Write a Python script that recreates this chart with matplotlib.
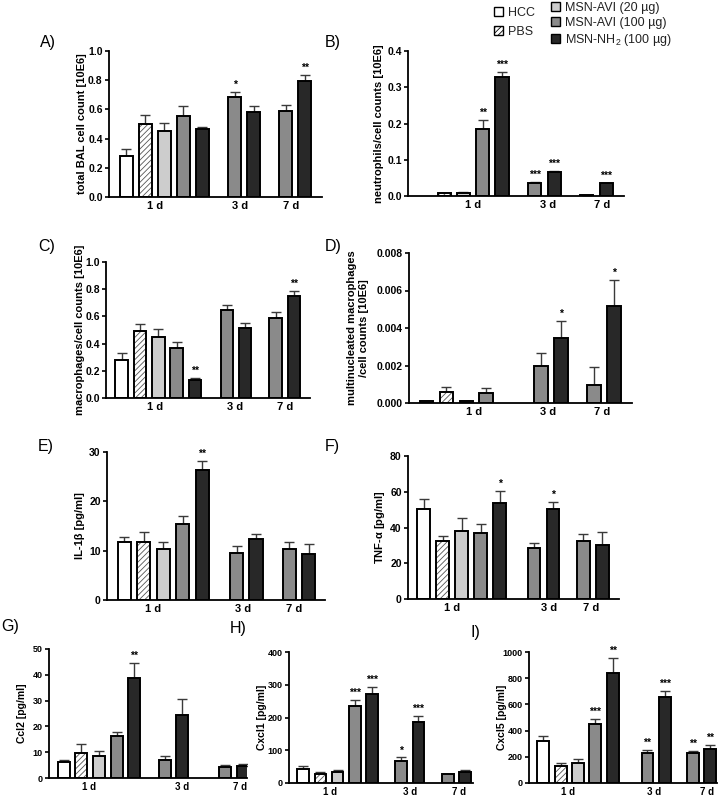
import matplotlib
matplotlib.use('Agg')
import matplotlib.pyplot as plt
from matplotlib.patches import Patch
from matplotlib.ticker import FormatStrFormatter
import numpy as np

plt.rcParams['font.family'] = ['Liberation Sans', 'DejaVu Sans']
plt.rcParams['hatch.linewidth'] = 0.6
plt.rcParams['mathtext.default'] = 'regular'

W, H = 725, 800
nan = np.nan

groups = ['1 d', '3 d', '7 d']
treatments = ['HCC', 'PBS', 'MSN-AVI (20 µg)', 'MSN-AVI (100 µg)', 'MSN-NH$_2$ (100 µg)']
# 1 d: all five groups, 3 d and 7 d: MSN-AVI (100) and MSN-NH2 only
bar_treat = [0, 1, 2, 3, 4, 3, 4, 3, 4]
face = ['white', 'white', '#cdcdcd', '#8a8a8a', '#282828']

a_mean = [0.28, 0.50, 0.45, 0.553, 0.463, 0.685, 0.582, 0.591, 0.795]
a_err = [0.05, 0.062, 0.057, 0.068, 0.018, 0.037, 0.041, 0.041, 0.039]
a_sig = ['', '', '', '', '', '*', '', '', '**']

b_mean = [nan, 0.0083, 0.0092, 0.185, 0.327, 0.0368, 0.065, 0.002, 0.035]
b_err = [nan, 0.001, 0.003, 0.024, 0.014, 0.001, 0.005, 0.0005, 0.002]
b_sig = ['', '', '', '**', '***', '***', '***', '', '***']

c_mean = [0.28, 0.49, 0.45, 0.365, 0.135, 0.645, 0.515, 0.585, 0.753]
c_err = [0.05, 0.055, 0.055, 0.05, 0.015, 0.04, 0.04, 0.045, 0.035]
c_sig = ['', '', '', '', '**', '', '', '', '**']

d_mean = [0.00009, 0.0006, 0.0001, 0.00054, nan, 0.00198, 0.00345, 0.00096, 0.0052]
d_err = [0.00001, 0.00025, 0.00003, 0.00027, nan, 0.00071, 0.00091, 0.00095, 0.00138]
d_sig = ['', '', '', '', '', '', '*', '', '*']

e_mean = [11.7, 11.7, 10.3, 15.4, 26.3, 9.6, 12.4, 10.3, 9.4]
e_err = [1.15, 2.0, 1.5, 1.55, 1.8, 1.35, 1.0, 1.4, 1.9]
e_sig = ['', '', '', '', '**', '', '', '', '']

f_mean = [50.2, 32.2, 38.1, 37.0, 53.8, 28.5, 50.2, 32.2, 30.3]
f_err = [5.6, 3.0, 7.1, 4.7, 6.7, 2.6, 4.3, 3.9, 7.3]
f_sig = ['', '', '', '', '*', '', '*', '', '']

g_mean = [6.2, 9.6, 8.7, 16.1, 38.9, 7.1, 24.3, 4.3, 4.5]
g_err = [0.9, 3.6, 1.8, 1.8, 5.7, 1.3, 6.2, 0.8, 1.0]
g_sig = ['', '', '', '', '**', '', '', '', '']

h_mean = [41.7, 28.5, 34.6, 235, 273, 66, 185, 27.5, 34.6]
h_err = [10, 6, 6, 19, 21, 12, 19, 0, 4]
h_sig = ['', '', '', '***', '***', '*', '***', '', '']

i_mean = [318, 127, 155, 453, 840, 232, 654, 229, 262]
i_err = [38, 25, 28, 33, 112, 18, 51, 15, 31]
i_sig = ['', '', '', '***', '**', '**', '***', '**', '**']

# letter, data, ylabel, ymax, ystep, fmt, axes box (px), xlim, g3, g7, label pos, ylabel right edge (px), letter pos, small
panels = [
    ('A)', a_mean, a_err, a_sig, 'total BAL cell count [10E6]', 1.0, 0.2, '%.1f',
     (109, 51, 322, 197), (-0.9, 10.3), 5.7, 8.4, [1.5, 6.0, 8.7], 87, (40, 42), False),
    ('B)', b_mean, b_err, b_sig, 'neutrophils/cell counts [10E6]', 0.4, 0.1, '%.1f',
     (408, 51, 624, 196), (-0.88, 10.33), 5.7, 8.4, [2.5, 6.4, 9.2], 384, (325, 42), False),
    ('C)', c_mean, c_err, c_sig, 'macrophages/cell counts [10E6]', 1.0, 0.2, '%.1f',
     (106, 262, 310, 398), (-0.85, 10.26), 5.73, 8.39, [1.8, 6.2, 8.9], 85, (38, 246), False),
    ('D)', d_mean, d_err, d_sig, 'multinucleated macrophages\n/cell counts [10E6]', 0.008, 0.002, '%.3f',
     (409, 253, 632, 403), (-0.87, 10.3), 5.73, 8.4, [2.4, 6.1, 8.8], 369, (325, 246), False),
    ('E)', e_mean, e_err, e_sig, 'IL-1β [pg/ml]', 30, 10, '%d',
     (107, 452, 325, 600), (-0.89, 10.3), 5.76, 8.46, [1.5, 6.1, 8.7], 85, (38, 446), False),
    ('F)', f_mean, f_err, f_sig, r'TNF-$\alpha$ [pg/ml]', 80, 20, '%d',
     (408, 456, 619, 599), (-0.84, 10.28), 5.8, 8.4, [1.5, 6.6, 8.8], 387, (325, 447), False),
    ('G)', g_mean, g_err, g_sig, 'Ccl2 [pg/ml]', 50, 10, '%d',
     (49, 649, 247, 778), (-0.83, 10.4), 5.74, 9.17, [1.45, 6.7, 10.0], 27, (1, 627), True),
    ('H)', h_mean, h_err, h_sig, 'Cxcl1 [pg/ml]', 400, 100, '%d',
     (289, 652, 473, 783), (-0.83, 9.9), 5.72, 8.45, [1.55, 6.25, 9.1], 267, (230, 628), True),
    ('I)', i_mean, i_err, i_sig, 'Cxcl5 [pg/ml]', 1000, 200, '%d',
     (529, 652, 717, 783), (-0.82, 10.0), 6.0, 8.6, [1.4, 6.35, 9.4], 507, (470, 632), True),
]

fig = plt.figure(figsize=(W / 100, H / 100), dpi=100)

for (letter, mean, err, sig, ylab, ymax, ystep, fmt, box, xlim, g3, g7,
     labx, ylab_right, lpos, small) in panels:
    x0, y0, x1, y1 = box
    ax = fig.add_axes([x0 / W, 1 - y1 / H, (x1 - x0) / W, (y1 - y0) / H])
    pos = np.array([0, 1, 2, 3, 4, g3, g3 + 1, g7, g7 + 1], dtype=float)
    mean = np.array(mean, dtype=float)
    err = np.array(err, dtype=float)
    ok = ~np.isnan(mean)
    cols = [face[t] for t in bar_treat]

    # error bars (upper half only)
    ax.errorbar(pos[ok], mean[ok], yerr=[np.zeros(ok.sum()), err[ok]], fmt='none',
                ecolor='#3a3a3a', elinewidth=1.0, capsize=3.5, capthick=1.0, zorder=1)
    for k in np.where(ok)[0]:
        t = bar_treat[k]
        if t == 1:
            ax.bar(pos[k], mean[k], width=0.68, color='white', edgecolor='#555555',
                   hatch='//////', linewidth=0, zorder=2)
            ax.bar(pos[k], mean[k], width=0.68, fill=False, edgecolor='black',
                   linewidth=1.4, zorder=3)
        else:
            ax.bar(pos[k], mean[k], width=0.68, color=cols[k], edgecolor='black',
                   linewidth=1.4, zorder=2)
        if sig[k]:
            ax.annotate(sig[k], (pos[k], mean[k] + err[k]), xytext=(0, 1.5),
                        textcoords='offset points', ha='center', va='bottom',
                        fontsize=7.5, fontweight='bold')

    ax.set_xlim(*xlim)
    ax.set_ylim(0, ymax)
    ax.set_yticks(np.arange(0, ymax + ystep / 2, ystep))
    ax.yaxis.set_major_formatter(FormatStrFormatter(fmt))
    ax.set_xticks(labx, groups)
    tfs = 6.5 if small else 7.5
    ax.tick_params(axis='x', length=0, pad=3, labelsize=tfs + 0.5)
    ax.tick_params(axis='y', length=3, width=1.2, pad=1.5, labelsize=tfs)
    for lab in ax.get_xticklabels() + ax.get_yticklabels():
        lab.set_fontweight('bold')
    for s in ['top', 'right']:
        ax.spines[s].set_visible(False)
    for s in ['left', 'bottom']:
        ax.spines[s].set_linewidth(1.3)
    ax.set_ylabel(ylab, fontsize=7.5 if small else 8, fontweight='bold',
                  multialignment='center')
    ax.yaxis.set_label_coords((ylab_right - x0) / (x1 - x0), 0.5)

    fig.text(lpos[0] / W, 1 - lpos[1] / H, letter, fontsize=11.5, ha='left', va='center')

# legend
h1 = [Patch(facecolor='white', edgecolor='black', linewidth=1),
      Patch(facecolor='white', edgecolor='black', linewidth=1, hatch='//////')]
h2 = [Patch(facecolor=face[t], edgecolor='black', linewidth=1) for t in (2, 3, 4)]
fig.legend(h1, treatments[:2], loc='upper left', bbox_to_anchor=(494 / W, 1 - 7 / H),
           frameon=False, fontsize=9, handlelength=0.7, handleheight=0.7,
           handletextpad=0.4, labelspacing=0.55, borderpad=0, borderaxespad=0,
           labelcolor='#222222')
fig.legend(h2, treatments[2:], loc='upper left', bbox_to_anchor=(551 / W, 1 - 2 / H),
           frameon=False, fontsize=9, handlelength=0.7, handleheight=0.7,
           handletextpad=0.4, labelspacing=0.22, borderpad=0, borderaxespad=0,
           labelcolor='#222222')

fig.savefig('out.png', dpi=100)
